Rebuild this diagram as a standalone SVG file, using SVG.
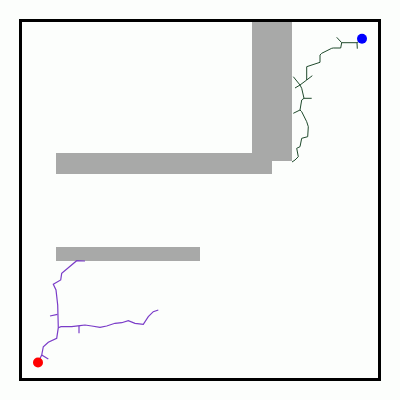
<svg xmlns="http://www.w3.org/2000/svg" width="400" height="400" viewBox="0 0 400 400">
<defs>
<style>
.obs{fill:#a8a9a8}
.tg{fill:none;stroke:#1f4a2c;stroke-width:1}
.tp{fill:none;stroke:#7a3cc8;stroke-width:1.2}
</style>
</defs>
<rect x="0" y="0" width="400" height="400" fill="#fcfefc"/>
<rect x="20.5" y="20.5" width="359" height="359" fill="none" stroke="#000" stroke-width="3"/>
<g id="obstacles">
<rect class="obs" x="252" y="22" width="40" height="139"/>
<rect class="obs" x="56" y="153" width="216" height="21"/>
<rect class="obs" x="56" y="247" width="144" height="14"/>
</g>
<g id="connectors">
<g id="tree-goal" class="tg">
<polyline points="362,39 357,42.7 341.7,42.7 340.7,48 333.3,48 331.7,48.3 321.7,53.3 320,55 320,62.3 306.7,66.7 306.7,80 300,85 301.7,88.3 304,98.3 301.7,100 300,110 301.7,111.7 306.7,121.7 308.3,126.7 307.7,136.7 301.7,138.3 300,146.7 296.7,148.3 298.3,156.7 295,160 292,162"/>
<line x1="357" y1="42.7" x2="357.3" y2="48.7"/>
<line x1="341.7" y1="42.7" x2="336.7" y2="37.3"/>
<line x1="306.7" y1="80" x2="312.3" y2="75.7"/>
<line x1="293.3" y1="76.7" x2="300" y2="85"/>
<line x1="300" y1="85" x2="295" y2="88"/>
<line x1="304" y1="98.3" x2="311.7" y2="98.3"/>
<line x1="300" y1="110" x2="293.3" y2="113.3"/>
</g>
<g id="tree-start" class="tp">
<polyline points="38,362.5 41.7,355 43.3,346.7 48.3,342.3 56.7,338.3 58.3,327.7 57.7,305 56,290 53.3,284.3 60.7,280 61.7,273.3 76.7,260.7 85,261"/>
<polyline points="58.3,327.7 61,326.7 71.7,326.7 80,325.7 85,325 91.7,326 100,327.3 106.7,326 115,323.3 121.7,322.7 128.3,320.7 135,323.3 143.3,324.3 148.3,316.7 153.3,311.7 158.3,310"/>
<line x1="79" y1="326" x2="79" y2="333.3"/>
<line x1="50" y1="316" x2="57.5" y2="314.3"/>
<line x1="41.7" y1="355" x2="48.3" y2="359"/>
</g>
</g>
<g id="start"><circle cx="38" cy="362.5" r="5" fill="#ff0000"/></g>
<g id="goal"><circle cx="362" cy="38.8" r="5" fill="#0000ff"/></g>
</svg>
